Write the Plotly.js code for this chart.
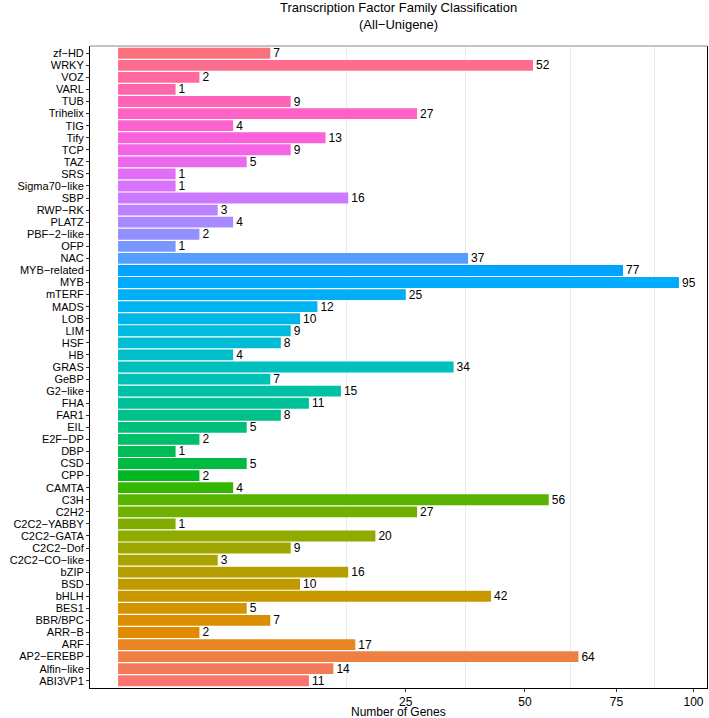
<!DOCTYPE html>
<html>
<head>
<meta charset="utf-8">
<script src="https://cdn.plot.ly/plotly-3.0.1.min.js"></script>
<style>html,body{margin:0;padding:0;background:#fff;}#chart{width:709px;height:718px;}</style>
</head>
<body>
<div id="chart"></div>
<script>
// Categories listed bottom to top
const families = ["ABI3VP1","Alfin−like","AP2−EREBP","ARF","ARR−B","BBR/BPC","BES1","bHLH","BSD","bZIP",
  "C2C2−CO−like","C2C2−Dof","C2C2−GATA","C2C2−YABBY","C2H2","C3H","CAMTA","CPP","CSD","DBP",
  "E2F−DP","EIL","FAR1","FHA","G2−like","GeBP","GRAS","HB","HSF","LIM",
  "LOB","MADS","mTERF","MYB","MYB−related","NAC","OFP","PBF−2−like","PLATZ","RWP−RK",
  "SBP","Sigma70−like","SRS","TAZ","TCP","Tify","TIG","Trihelix","TUB","VARL",
  "VOZ","WRKY","zf−HD"];
const geneCounts = [11,14,64,17,2,7,5,42,10,16,
  3,9,20,1,27,56,4,2,5,1,
  2,5,8,11,15,7,34,4,8,9,
  10,12,25,95,77,37,1,2,4,3,
  16,1,1,5,9,13,4,27,9,1,
  2,52,7];
const tickValues = [25,50,75,100];
const titleText = 'Transcription Factor Family Classification<br>(All−Unigene)';
const xTitleText = 'Number of Genes';

// ggplot-style hue palette (HCL, l=65, c=100)
function hcl2hex(h, c, l){
  const hr = h*Math.PI/180;
  const U = c*Math.cos(hr), V = c*Math.sin(hr);
  const Yn=100, un=0.1978398, vn=0.4683363;
  const Y = Yn*(l>8 ? Math.pow((l+16)/116,3) : l/903.3);
  const up = U/(13*l)+un, vp = V/(13*l)+vn;
  const X = 9*Y*up/(4*vp);
  const Z = -X/3 - 5*Y + 3*Y/vp;
  const g = u => u>0.00304 ? 1.055*Math.pow(u,1/2.4)-0.055 : 12.92*u;
  let r = g((3.240479*X - 1.537150*Y - 0.498535*Z)/100);
  let gg = g((-0.969256*X + 1.875992*Y + 0.041556*Z)/100);
  let b = g((0.055648*X - 0.204043*Y + 1.057311*Z)/100);
  const hx = v => { v=Math.max(0,Math.min(1,v)); const s=Math.round(v*255).toString(16); return s.length<2?'0'+s:s; };
  return '#'+hx(r)+hx(gg)+hx(b);
}
const n = families.length;
const colors = families.map((_,i)=>hcl2hex(15 + i*360/n, 100, 65));

// sqrt scale
const xs = geneCounts.map(v=>Math.sqrt(v));
const majT = tickValues.map(v=>Math.sqrt(v));
const minT = [];
const step0 = majT[1]-majT[0];
const ext = [majT[0]-step0].concat(majT);
for(let i=0;i<ext.length-1;i++) minT.push((ext[i]+ext[i+1])/2);
const maxS = Math.max(...xs);
const pad = maxS*0.05;

const font = "Liberation Sans, Arial, Helvetica, sans-serif";
const trace = {
  type:'bar', orientation:'h',
  y: families, x: xs,
  marker:{color: colors, line:{width:0}},
  text: geneCounts.map(String),
  textposition:'outside',
  textfont:{family:font, size:12, color:'#000'},
  cliponaxis:false,
  constraintext:'none',
  hoverinfo:'none'
};
const layout = {
  width:709, height:718,
  margin:{l:90, r:2, t:46, b:30, pad:0},
  paper_bgcolor:'#fff', plot_bgcolor:'#fff',
  font:{family:font, color:'#000'},
  showlegend:false,
  bargap:0.1,
  xaxis:{range:[-pad, maxS+pad], tickmode:'array', tickvals:majT, ticktext:tickValues.map(String),
    showgrid:false, zeroline:false, ticks:'outside', ticklen:3, tickcolor:'#333', tickwidth:1,
    tickfont:{family:font, size:12, color:'#000'},
    showline:true, linecolor:'#000', linewidth:1,
    minor:{tickmode:'array', tickvals:minT, showgrid:true, gridcolor:'#ebebeb', gridwidth:1, ticks:''},
    automargin:false, fixedrange:true},
  yaxis:{type:'category', categoryorder:'array', categoryarray:families, range:[-0.6, n-0.4],
    tickmode:'array', tickvals:families, ticktext:families,
    showgrid:false, zeroline:false, ticks:'outside', ticklen:3, tickcolor:'#333', tickwidth:1,
    tickfont:{family:font, size:11, color:'#000'},
    showline:true, mirror:true, linecolor:'#000', linewidth:1, automargin:false, fixedrange:true},
  shapes:[{type:'line', xref:'paper', yref:'paper', x0:0, x1:1, y0:1, y1:1, line:{color:'#888', width:1}}],
  annotations:[
    {text:titleText, xref:'paper', yref:'paper', x:0.5, y:1, xanchor:'center', yanchor:'bottom', yshift:12,
     showarrow:false, align:'center', font:{family:font, size:13, color:'#000'}},
    {text:xTitleText, xref:'paper', yref:'paper', x:0.5, y:0, xanchor:'center', yanchor:'top', yshift:-15,
     showarrow:false, font:{family:font, size:12, color:'#000'}}
  ]
};
Plotly.newPlot('chart',[trace],layout,{displayModeBar:false, staticPlot:true});
</script>
</body>
</html>
